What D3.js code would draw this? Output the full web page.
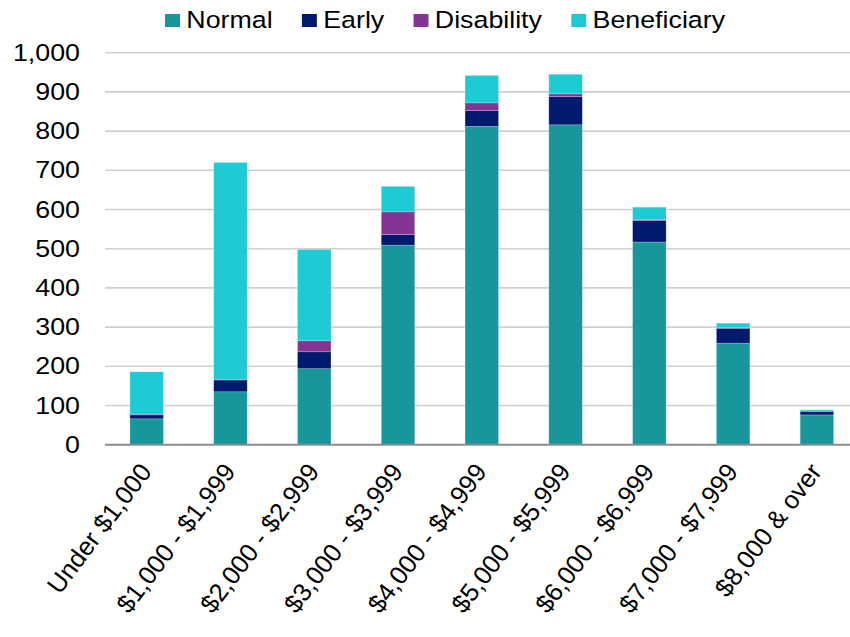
<!DOCTYPE html>
<html lang="en">

<head>
    <meta charset="UTF-8">
    <title>Benefit ranges</title>
    <script src="https://d3js.org/d3.v7.min.js"></script>
    <style>
        html,
        body {
            margin: 0;
            height: 100%;
            overflow: hidden;
            background: #fff;
        }

        text {
            font-family: "Liberation Sans", Arial, sans-serif;
            fill: #000;
        }
    </style>
</head>

<body>
    <svg id="svg"></svg>
    <script>
        const categories = ['Under $1,000', '$1,000 - $1,999', '$2,000 - $2,999', '$3,000 - $3,999',
            '$4,000 - $4,999', '$5,000 - $5,999', '$6,000 - $6,999', '$7,000 - $7,999', '$8,000 & over'];
        const normal = [66, 135, 194, 509, 812, 816, 517, 259, 76];
        const early = [10, 30, 43, 27, 40, 72, 55, 38, 9];
        const disability = [2, 2, 28, 58, 20, 7, 3, 2, 1];
        const beneficiary = [108, 553, 233, 65, 70, 50, 31, 11, 3];
        const seriesNames = ['Normal', 'Early', 'Disability', 'Beneficiary'];
        const colors = ['#17979b', '#001b6d', '#843594', '#1ecad3'];
        const yTicks = [0, 100, 200, 300, 400, 500, 600, 700, 800, 900, 1000];

        // the picture is a bit wider than it is tall, so stretch everything sideways
        const stretch = 1.15;
        const W = 850, H = 637;
        const vw = W / stretch;
        const svg = d3.select('#svg')
            .attr('width', W)
            .attr('height', H)
            .attr('viewBox', `0 0 ${vw} ${H}`)
            .attr('preserveAspectRatio', 'none');

        const rows = categories.map((c, i) => ({
            cat: c, Normal: normal[i], Early: early[i], Disability: disability[i], Beneficiary: beneficiary[i]
        }));
        const stacked = d3.stack().keys(seriesNames)(rows);

        const x = d3.scaleBand().domain(categories)
            .range([104.8 / stretch, 858.8 / stretch])
            .paddingInner(0.6).paddingOuter(0.3);
        const y = d3.scaleLinear().domain([0, 1000]).range([444.7, 52.7]);
        const color = d3.scaleOrdinal().domain(seriesNames).range(colors);

        // gridlines
        svg.append('g').selectAll('line').data(yTicks.filter(d => d > 0)).join('line')
            .attr('x1', 105 / stretch).attr('x2', vw)
            .attr('y1', d => y(d)).attr('y2', d => y(d))
            .attr('stroke', '#d0d0d0').attr('stroke-width', 1.6);

        // y labels
        svg.append('g').selectAll('text').data(yTicks).join('text')
            .attr('x', 80 / stretch).attr('y', d => y(d))
            .attr('dy', '0.35em')
            .attr('text-anchor', 'end')
            .attr('font-size', 23.3)
            .text(d => d3.format(',')(d));

        // bars
        svg.append('g').selectAll('g').data(stacked).join('g')
            .attr('fill', d => color(d.key))
            .selectAll('rect').data(d => d).join('rect')
            .attr('x', d => x(d.data.cat))
            .attr('width', x.bandwidth())
            .attr('y', d => y(d[1]))
            .attr('height', d => y(d[0]) - y(d[1]))
            .attr('stroke', '#ffffff').attr('stroke-opacity', 0.35).attr('stroke-width', 0.6);

        // baseline
        svg.append('line')
            .attr('x1', 105 / stretch).attr('x2', vw)
            .attr('y1', y(0)).attr('y2', y(0))
            .attr('stroke', '#8c8c8c').attr('stroke-width', 2);

        // x labels: undo the stretch so the slant reads like the original
        svg.append('g')
            .attr('transform', `scale(${1 / stretch},1)`)
            .selectAll('text').data(categories).join('text')
            .attr('text-anchor', 'end')
            .attr('font-size', 25.5)
            .attr('transform', d => `translate(${(x(d) + x.bandwidth() / 2) * stretch + 6}, 472) rotate(-53)`)
            .text(d => d);

        // legend
        const legend = svg.append('g');
        let lx = 143.5;
        seriesNames.forEach((name, i) => {
            legend.append('rect')
                .attr('x', lx).attr('y', 14)
                .attr('width', 13).attr('height', 13)
                .attr('fill', colors[i]);
            const t = legend.append('text')
                .attr('x', lx + 18.5).attr('y', 28.5)
                .attr('font-size', 23.3)
                .text(name);
            lx += 18.5 + t.node().getComputedTextLength() + 25.5;
        });
    </script>
</body>

</html>
